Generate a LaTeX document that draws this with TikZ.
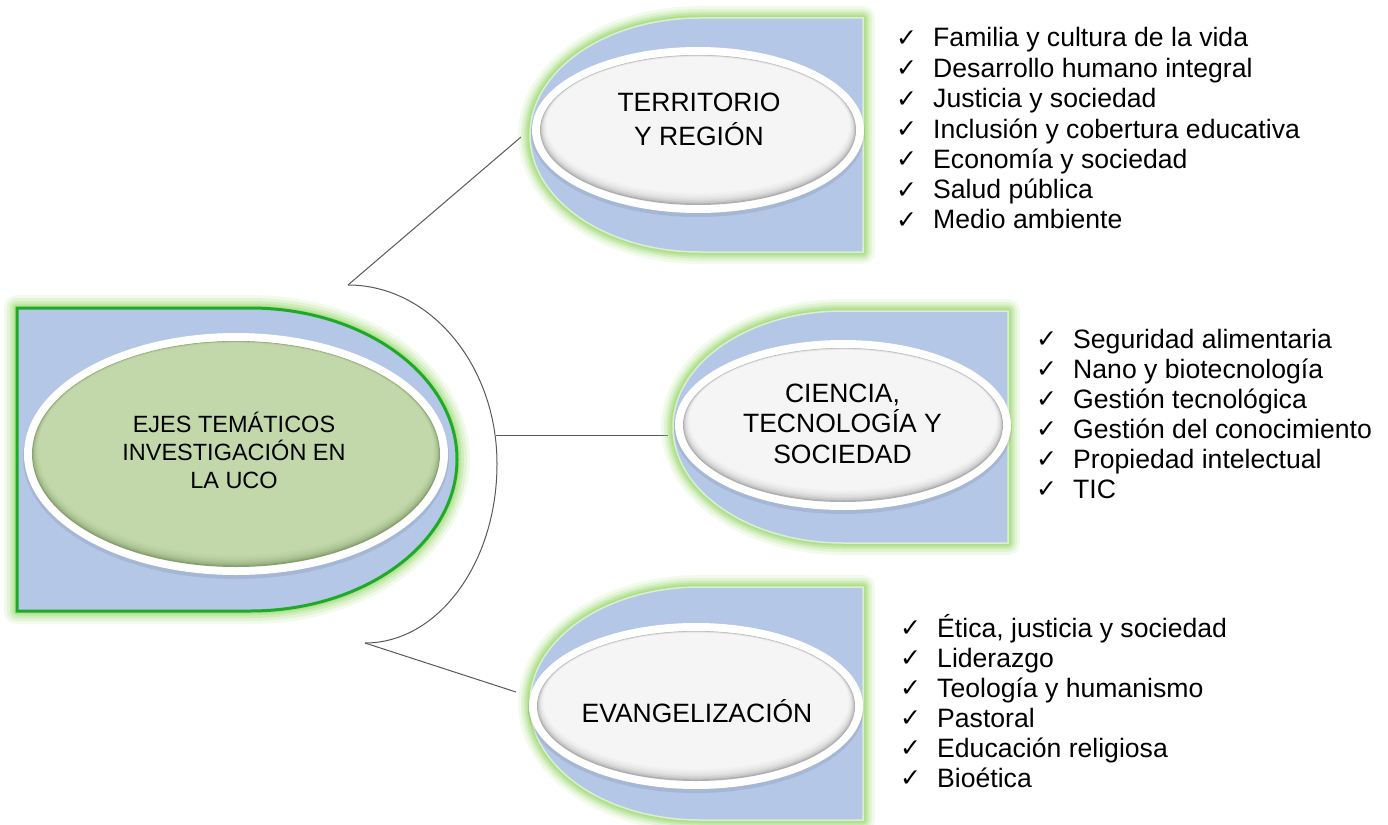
\documentclass[tikz,border=0pt]{standalone}
\usepackage{fontspec}
\setmainfont{Liberation Sans}
\newfontfamily\checkfont{DejaVu Sans}
\usetikzlibrary{calc,shapes.geometric}
\definecolor{bluefill}{RGB}{180,199,231}
\definecolor{glowc}{RGB}{150,215,105}
\definecolor{paleedge}{RGB}{220,238,208}
\definecolor{darkgreen}{RGB}{30,170,40}
\definecolor{greenfill}{RGB}{194,216,170}
\definecolor{greenshadow}{RGB}{135,160,110}
\definecolor{grayfill}{RGB}{245,245,245}
\definecolor{grayshadow}{RGB}{175,175,175}
\definecolor{linec}{RGB}{89,89,89}
\tikzset{
  conn/.style={draw=linec, line width=1pt},
  ttl/.style={font=\fontsize{26.5}{31}\selectfont, anchor=base, inner sep=0pt},
  ctr/.style={font=\fontsize{23.5}{28}\selectfont, anchor=base, inner sep=0pt},
  item/.style={font=\fontsize{26.6}{30}\selectfont, anchor=base west, inner sep=0pt},
  ring/.style={ellipse, fill=white, inner sep=0pt},
  glowline/.style={glowc, line join=round},
}
\newcommand{\ck}{\makebox[37pt][l]{\raisebox{0.5pt}{\checkfont\fontsize{25}{25}\selectfont ✓}}}
\begin{document}
\begin{tikzpicture}[x=1pt,y=-1pt]
\useasboundingbox (0,0) rectangle (1388,824);
\fill[white] (0,0) rectangle (1388,824);

% bracket and connectors
\coordinate (bt) at (348,285);
\coordinate (bm) at (496,435);
\coordinate (bb) at (365,643);
\coordinate (terrT) at (521,137);
\coordinate (cienT) at (668,435);
\coordinate (evanT) at (516,692);
\draw[conn] (bt) .. controls (430,285) and (497,365) .. (497,464)
               .. controls (497,563) and (438,643) .. (bb);
\draw[conn] (bt) -- (terrT);
\draw[conn] (bm) -- (cienT);
\draw[conn] (bb) -- (evanT);

% ---------- centre shape ----------
\foreach \w/\o in {26/0.12,20/0.17,14/0.23,9/0.3,5/0.4}{
  \draw[glowline, line width=\w pt, opacity=\o] (17,308) -- (250,308)
    arc[start angle=-90, end angle=90, x radius=207, y radius=151.5] -- (17,611) -- cycle;
}
\draw[fill=bluefill, draw=darkgreen, line width=3pt] (17,308) -- (250,308)
    arc[start angle=-90, end angle=90, x radius=207, y radius=151.5] -- (17,611) -- cycle;
\fill[black, opacity=0.08] (236,457) ellipse [x radius=213, y radius=122];
\node[ring, minimum width=424pt, minimum height=242pt] (ejes) at (236,454) {};
\fill[greenshadow] (ejes.center) ellipse [x radius=204, y radius=113];
\foreach \i/\p in {1/35,2/55,3/70,4/80,5/89,6/95,7/100}
  \fill[greenfill!\p!greenshadow] ($(ejes.center)+(0,-\i*0.7)$) ellipse [x radius=204-\i*0.9, y radius=113-\i*1.0];
\node[ctr] (ejesA) at (234,432) {EJES TEMÁTICOS};
\node[ctr] (ejesB) at (234,460) {INVESTIGACIÓN EN};
\node[ctr] (ejesC) at (234,488) {LA UCO};

% ---------- TERRITORIO ----------
\foreach \w/\o in {24/0.12,18/0.17,13/0.23,9/0.3,5/0.4}{
  \draw[glowline, line width=\w pt, opacity=\o] (863,18) -- (863,252) -- (700,252)
    arc[start angle=90, end angle=270, x radius=170, y radius=117] -- cycle;
}
\draw[fill=bluefill, draw=paleedge, line width=1.5pt] (863,18) -- (863,252) -- (700,252)
    arc[start angle=90, end angle=270, x radius=170, y radius=117] -- cycle;
\fill[black, opacity=0.08] (698,133) ellipse [x radius=167, y radius=84];
\node[ring, minimum width=332pt, minimum height=166pt] (terr) at (698,130) {};
\fill[grayshadow] (terr.center) ellipse [x radius=158, y radius=75];
\foreach \i/\p in {1/35,2/55,3/70,4/80,5/89,6/95,7/100}
  \fill[grayfill!\p!grayshadow] ($(terr.center)+(0,-\i*0.7)$) ellipse [x radius=158-\i*0.9, y radius=75-\i*1.0];
\node[ttl] (terrA) at (699,112) {TERRITORIO};
\node[ttl] (terrB) at (699,146) {Y REGIÓN};

% ---------- CIENCIA ----------
\foreach \w/\o in {24/0.12,18/0.17,13/0.23,9/0.3,5/0.4}{
  \draw[glowline, line width=\w pt, opacity=\o] (1008,311) -- (1008,543) -- (843,543)
    arc[start angle=90, end angle=270, x radius=170, y radius=116] -- cycle;
}
\draw[fill=bluefill, draw=paleedge, line width=1.5pt] (1008,311) -- (1008,543) -- (843,543)
    arc[start angle=90, end angle=270, x radius=170, y radius=116] -- cycle;
\fill[black, opacity=0.08] (843,428) ellipse [x radius=169, y radius=86];
\node[ring, minimum width=336pt, minimum height=170pt] (cien) at (843,425) {};
\fill[grayshadow] (cien.center) ellipse [x radius=160, y radius=77];
\foreach \i/\p in {1/35,2/55,3/70,4/80,5/89,6/95,7/100}
  \fill[grayfill!\p!grayshadow] ($(cien.center)+(0,-\i*0.7)$) ellipse [x radius=160-\i*0.9, y radius=77-\i*1.0];
\node[ttl] (cienA) at (842.5,402) {CIENCIA,};
\node[ttl] (cienB) at (842.5,432) {TECNOLOGÍA Y};
\node[ttl] (cienC) at (842.5,463) {SOCIEDAD};

% ---------- EVANGELIZACION ----------
\foreach \w/\o in {24/0.12,18/0.17,13/0.23,9/0.3,5/0.4}{
  \draw[glowline, line width=\w pt, opacity=\o] (863,587) -- (863,820) -- (700,820)
    arc[start angle=90, end angle=270, x radius=170, y radius=116.5] -- cycle;
}
\draw[fill=bluefill, draw=paleedge, line width=1.5pt] (863,587) -- (863,820) -- (700,820)
    arc[start angle=90, end angle=270, x radius=170, y radius=116.5] -- cycle;
\fill[black, opacity=0.08] (696,709) ellipse [x radius=168, y radius=84];
\node[ring, minimum width=334pt, minimum height=166pt] (evan) at (696,706) {};
\fill[grayshadow] (evan.center) ellipse [x radius=159, y radius=75];
\foreach \i/\p in {1/35,2/55,3/70,4/80,5/89,6/95,7/100}
  \fill[grayfill!\p!grayshadow] ($(evan.center)+(0,-\i*0.7)$) ellipse [x radius=159-\i*0.9, y radius=75-\i*1.0];
\node[ttl] (evanA) at (697,722) {EVANGELIZACIÓN};

% ---------- lists ----------
\node[item] (t1) at (896,47)    {\ck Familia y cultura de la vida};
\node[item] (t2) at (896,77.3)  {\ck Desarrollo humano integral};
\node[item] (t3) at (896,107.6) {\ck Justicia y sociedad};
\node[item] (t4) at (896,138)   {\ck Inclusión y cobertura educativa};
\node[item] (t5) at (896,168.2) {\ck Economía y sociedad};
\node[item] (t6) at (896,198.5) {\ck Salud pública};
\node[item] (t7) at (896,228.8) {\ck Medio ambiente};

\node[item] (c1) at (1036,348) {\ck Seguridad alimentaria};
\node[item] (c2) at (1036,378) {\ck Nano y biotecnología};
\node[item] (c3) at (1036,408) {\ck Gestión tecnológica};
\node[item] (c4) at (1036,438) {\ck Gestión del conocimiento};
\node[item] (c5) at (1036,468) {\ck Propiedad intelectual};
\node[item] (c6) at (1036,498) {\ck TIC};

\node[item] (e1) at (900,637) {\ck Ética, justicia y sociedad};
\node[item] (e2) at (900,667) {\ck Liderazgo};
\node[item] (e3) at (900,697) {\ck Teología y humanismo};
\node[item] (e4) at (900,727) {\ck Pastoral};
\node[item] (e5) at (900,757) {\ck Educación religiosa};
\node[item] (e6) at (900,787) {\ck Bioética};
\end{tikzpicture}
\end{document}
